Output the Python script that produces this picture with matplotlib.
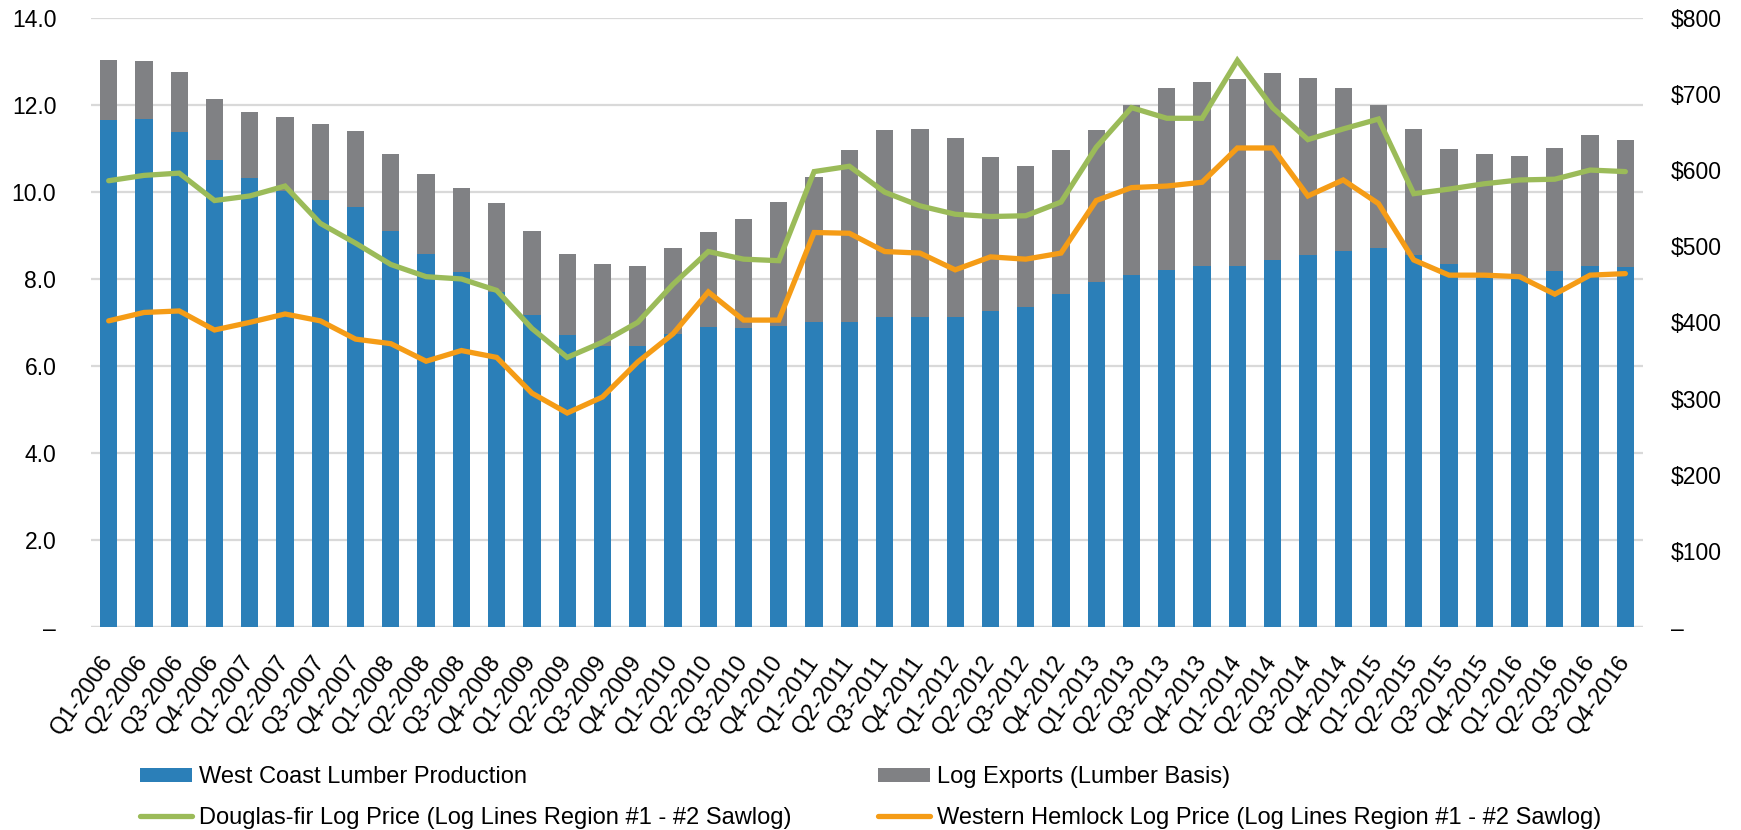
import numpy as np
import matplotlib
matplotlib.use('Agg')
import matplotlib.pyplot as plt
from matplotlib.ticker import FuncFormatter

plt.rcParams['font.family'] = ['Liberation Sans', 'DejaVu Sans']

quarters = [f'Q{q}-{y}' for y in range(2006, 2017) for q in range(1, 5)]

# billion board feet (left axis)
lumber = [11.66, 11.68, 11.38, 10.72, 10.31, 10.01, 9.81, 9.64, 9.09, 8.57, 8.15, 7.69,
          7.17, 6.71, 6.45, 6.45, 6.74, 6.90, 6.88, 6.91, 7.00, 7.00, 7.13, 7.12,
          7.12, 7.26, 7.35, 7.65, 7.92, 8.09, 8.21, 8.29, 8.29, 8.44, 8.54, 8.63,
          8.71, 8.55, 8.33, 8.12, 8.05, 8.17, 8.30, 8.27]
total = [13.03, 13.00, 12.76, 12.14, 11.84, 11.71, 11.57, 11.40, 10.87, 10.42, 10.08, 9.74,
         9.10, 8.57, 8.33, 8.29, 8.70, 9.07, 9.37, 9.77, 10.35, 10.97, 11.42, 11.44,
         11.24, 10.80, 10.59, 10.95, 11.41, 12.00, 12.39, 12.53, 12.59, 12.74, 12.61, 12.39,
         11.99, 11.44, 10.98, 10.88, 10.83, 11.01, 11.30, 11.19]
exports = [t - l for t, l in zip(total, lumber)]

# $ per MBF (right axis)
doug_fir = [586, 593, 596, 560, 566, 579, 530, 504, 476, 460, 457, 442,
            392, 354, 374, 400, 450, 493, 483, 481, 598, 605, 571, 553,
            542, 539, 540, 558, 630, 682, 668, 668, 744, 682, 640, 654,
            667, 569, 575, 582, 587, 588, 600, 598]
hemlock = [402, 413, 415, 390, 400, 411, 402, 378, 372, 349, 363, 354,
           307, 281, 302, 348, 385, 440, 403, 403, 518, 517, 493, 491,
           469, 486, 483, 491, 560, 577, 579, 584, 629, 629, 566, 587,
           556, 482, 462, 462, 460, 437, 462, 464]

c_blue = '#2b7fb8'
c_grey = '#808184'
c_green = '#9bbb59'
c_orange = '#f59c16'
fs = 16.5

fig = plt.figure(figsize=(17.41, 8.30), dpi=100)
ax = fig.add_axes([0.0523, 0.2446, 0.8914, 0.734])
ax2 = ax.twinx()

x = np.arange(len(quarters))
b1 = ax.bar(x, lumber, width=0.49, color=c_blue, zorder=2, label='West Coast Lumber Production')
b2 = ax.bar(x, exports, width=0.49, bottom=lumber, color=c_grey, zorder=2,
            label='Log Exports (Lumber Basis)')
l1, = ax2.plot(x, doug_fir, color=c_green, lw=3.8, solid_capstyle='round', solid_joinstyle='miter',
               label='Douglas-fir Log Price (Log Lines Region #1 - #2 Sawlog)')
l2, = ax2.plot(x, hemlock, color=c_orange, lw=3.8, solid_capstyle='round', solid_joinstyle='miter',
               label='Western Hemlock Log Price (Log Lines Region #1 - #2 Sawlog)')

ax.set_xlim(-0.5, len(quarters) - 0.5)
ax.set_ylim(0, 14)
ax2.set_ylim(0, 800)
ax.set_yticks(np.arange(0, 15, 2))
ax2.set_yticks(np.arange(0, 801, 100))
ax.yaxis.set_major_formatter(FuncFormatter(lambda v, p: '–' if v == 0 else f'{v:.1f}'))
ax2.yaxis.set_major_formatter(FuncFormatter(lambda v, p: '–' if v == 0 else f'${v:.0f}'))

ax.grid(axis='y', color='#d9d9d9', lw=1.6, zorder=0)
ax.set_axisbelow(True)
for a in (ax, ax2):
    for s in a.spines.values():
        s.set_visible(False)
ax.axhline(0, color='#d9d9d9', lw=1.6, zorder=1)

ax.set_xticks(x)
ax.set_xticklabels(quarters, rotation=55, ha='right', va='center', rotation_mode='anchor')
ax.tick_params(axis='x', length=0, pad=22, labelsize=17)
ax.tick_params(axis='y', length=0, pad=25, labelsize=fs)
ax2.tick_params(axis='y', length=0, pad=20, labelsize=fs)

leg = fig.legend([b1, l1, b2, l2],
                 [b1.get_label(), l1.get_label(), b2.get_label(), l2.get_label()],
                 ncol=2, loc='upper left', bbox_to_anchor=(0.075, 0.088), frameon=False,
                 fontsize=17, handlelength=2.2, handleheight=0.5, handletextpad=0.3,
                 columnspacing=3.65, labelspacing=0.78, borderaxespad=0)

fig.savefig('out.png', dpi=100)
